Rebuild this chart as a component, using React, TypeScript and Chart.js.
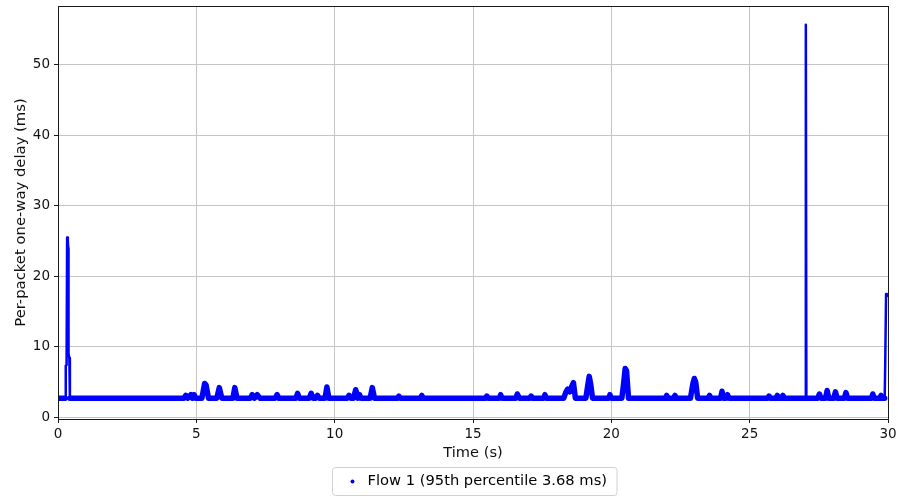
import React, { useEffect, useRef } from "react";
import { Chart, registerables } from "chart.js";

Chart.register(...registerables);

// ---- data ----
const seriesLabel = "Flow 1 (95th percentile 3.68 ms)";
const xTitle = "Time (s)";
const yTitle = "Per-packet one-way delay (ms)";

// time (s) of each sampled vertex of the delay trace
const times = [
  0.0, 0.26, 0.28, 0.31, 0.33, 0.355, 0.37, 0.38, 0.41, 0.43,
  1.5, 3.0, 4.55, 4.62, 4.69, 4.8, 4.86, 4.92, 4.98,
  5.2, 5.3, 5.35, 5.44, 5.74, 5.83, 5.92, 6.32, 6.39, 6.47,
  6.95, 7.02, 7.1, 7.2, 7.3, 7.85, 7.92, 7.98,
  8.6, 8.66, 8.72, 9.08, 9.15, 9.22, 9.32, 9.38, 9.44,
  9.65, 9.72, 9.79, 10.45, 10.52, 10.58, 10.68, 10.76, 10.84, 10.9, 10.95, 11.0,
  11.28, 11.36, 11.44, 12.28, 12.32, 12.36, 13.1, 13.15, 13.2,
  15.45, 15.5, 15.55, 15.95, 16.0, 16.05, 16.55, 16.6, 16.68,
  17.05, 17.1, 17.15, 17.55, 17.6, 17.65,
  18.28, 18.35, 18.42, 18.5, 18.56, 18.63, 18.7,
  19.08, 19.15, 19.2, 19.25, 19.32, 19.9, 19.95, 20.0,
  20.38, 20.45, 20.5, 20.55, 20.62, 21.95, 22.0, 22.05, 22.25, 22.3, 22.35,
  22.86, 22.95, 23.0, 23.05, 23.12, 23.5, 23.55, 23.6,
  23.95, 24.0, 24.05, 24.15, 24.2, 24.25,
  25.65, 25.7, 25.75, 25.95, 26.0, 26.05, 26.15, 26.2, 26.25,
  27.02, 27.03, 27.05, 27.46, 27.52, 27.58, 27.74, 27.8, 27.86,
  28.04, 28.1, 28.16, 28.42, 28.48, 28.54, 29.4, 29.45, 29.5,
  29.7, 29.75, 29.8, 29.88, 29.9, 29.93, 29.96,
];

// per-packet one-way delay (ms) at each of those times
const delays = [
  2.7, 2.7, 7.3, 7.4, 25.5, 25.0, 24.0, 9.0, 8.4, 2.7,
  2.7, 2.7, 2.7, 3.1, 2.7, 3.2, 2.7, 3.2, 2.7,
  2.7, 4.8, 4.6, 2.7, 2.7, 4.2, 2.7, 2.7, 4.2, 2.7,
  2.7, 3.2, 2.7, 3.2, 2.7, 2.7, 3.2, 2.7,
  2.7, 3.4, 2.7, 2.7, 3.4, 2.7, 2.7, 3.1, 2.7,
  2.7, 4.3, 2.7, 2.7, 3.1, 2.7, 2.7, 3.9, 2.7, 3.2, 2.7, 2.7,
  2.7, 4.2, 2.7, 2.7, 3.0, 2.7, 2.7, 3.1, 2.7,
  2.7, 3.0, 2.7, 2.7, 3.2, 2.7, 2.7, 3.3, 2.7,
  2.7, 3.0, 2.7, 2.7, 3.2, 2.7,
  2.7, 3.5, 4.0, 3.6, 4.3, 4.9, 2.7,
  2.7, 4.6, 5.8, 4.8, 2.7, 2.7, 3.2, 2.7,
  2.7, 5.0, 6.9, 6.6, 2.7, 2.7, 3.1, 2.7, 2.7, 3.1, 2.7,
  2.7, 4.8, 5.5, 5.0, 2.7, 2.7, 3.1, 2.7,
  2.7, 3.7, 2.7, 2.7, 3.2, 2.7,
  2.7, 3.0, 2.7, 2.7, 3.1, 2.7, 2.7, 3.1, 2.7,
  2.7, 55.7, 2.7, 2.7, 3.3, 2.7, 2.7, 3.8, 2.7,
  2.7, 3.6, 2.7, 2.7, 3.5, 2.7, 2.7, 3.3, 2.7,
  2.7, 3.1, 2.7, 2.7, 7.6, 17.5, 17.2,
];

const xTicks = [0, 5, 10, 15, 20, 25, 30];
const yTicks = [0, 10, 20, 30, 40, 50];
const xRange = [0, 30];
const yRange = [-0.25, 58.35];

const FONT = "'DejaVu Sans', 'Noto Sans', sans-serif";
const BLUE = "#0000ff";

const framePlugin = {
  id: "frameAndLegend",
  afterDraw(chart: any) {
    const { ctx, chartArea } = chart;
    const { left, right, top, bottom } = chartArea;
    ctx.save();
    // full box spines
    ctx.strokeStyle = "#1a1a1a";
    ctx.lineWidth = 1;
    ctx.strokeRect(
      Math.round(left) + 0.5,
      Math.round(top) + 0.5,
      Math.round(right) - Math.round(left),
      Math.round(bottom) - Math.round(top)
    );

    // legend box under the axis
    ctx.font = `14.7px ${FONT}`;
    const tw = ctx.measureText(seriesLabel).width;
    const boxW = tw + 45;
    const boxH = 28;
    const cx = (left + right) / 2 + 1;
    const bx = Math.round(cx - boxW / 2) + 0.5;
    const by = Math.round(bottom + 48) + 0.5;
    const r = 3;
    ctx.beginPath();
    ctx.moveTo(bx + r, by);
    ctx.lineTo(bx + boxW - r, by);
    ctx.quadraticCurveTo(bx + boxW, by, bx + boxW, by + r);
    ctx.lineTo(bx + boxW, by + boxH - r);
    ctx.quadraticCurveTo(bx + boxW, by + boxH, bx + boxW - r, by + boxH);
    ctx.lineTo(bx + r, by + boxH);
    ctx.quadraticCurveTo(bx, by + boxH, bx, by + boxH - r);
    ctx.lineTo(bx, by + r);
    ctx.quadraticCurveTo(bx, by, bx + r, by);
    ctx.closePath();
    ctx.fillStyle = "rgba(255,255,255,0.8)";
    ctx.fill();
    ctx.strokeStyle = "#d0d0d0";
    ctx.stroke();

    ctx.fillStyle = BLUE;
    ctx.beginPath();
    ctx.arc(bx + 20, by + boxH / 2, 2, 0, Math.PI * 2);
    ctx.fill();

    ctx.fillStyle = "#000";
    ctx.textBaseline = "middle";
    ctx.textAlign = "left";
    ctx.fillText(seriesLabel, bx + 35, by + boxH / 2);
    ctx.restore();
  },
};

const zeroPad = (s: any) => {
  s.paddingTop = 0;
  s.paddingBottom = 0;
  s.paddingLeft = 0;
  s.paddingRight = 0;
};

export default function App() {
  const ref = useRef<HTMLCanvasElement | null>(null);

  useEffect(() => {
    if (!ref.current) return;
    const points = times.map((t, i) => ({ x: t, y: delays[i] }));
    const chart = new Chart(ref.current, {
      type: "scatter",
      data: {
        datasets: [
          {
            label: seriesLabel,
            data: points,
            showLine: true,
            borderColor: BLUE,
            backgroundColor: BLUE,
            borderWidth: 5.5,
            borderCapStyle: "round",
            borderJoinStyle: "round",
            pointRadius: 0,
            segment: {
              borderWidth: (c: any) =>
                c.p0.parsed.y > 7 || c.p1.parsed.y > 7 ? 2.5 : 5.5,
            },
          } as any,
        ],
      },
      options: {
        animation: false,
        responsive: false,
        maintainAspectRatio: false,
        layout: { padding: { left: 0, right: 10, top: 6, bottom: 0 } },
        plugins: {
          legend: { display: false },
          tooltip: { enabled: false },
        },
        scales: {
          x: {
            type: "linear",
            min: xRange[0],
            max: xRange[1],
            afterBuildTicks: (s: any) => {
              s.ticks = xTicks.map((v) => ({ value: v }));
            },
            afterFit: (s: any) => {
              s.height = 79;
              zeroPad(s);
            },
            grid: {
              color: "#c4c4c4",
              lineWidth: 1,
              tickColor: "#1a1a1a",
              tickLength: 4,
              drawTicks: true,
            },
            border: { display: true, color: "#1a1a1a", width: 1 },
            ticks: {
              color: "#111",
              font: { family: FONT, size: 13.5 },
              padding: 3,
              maxRotation: 0,
              callback: (v: any) => String(v),
            },
            title: {
              display: true,
              text: xTitle,
              color: "#111",
              font: { family: FONT, size: 14.6 },
              padding: { top: 4, bottom: 36 },
            },
          },
          y: {
            type: "linear",
            min: yRange[0],
            max: yRange[1],
            afterBuildTicks: (s: any) => {
              s.ticks = yTicks.map((v) => ({ value: v }));
            },
            afterFit: (s: any) => {
              s.width = 58;
              zeroPad(s);
            },
            grid: {
              color: "#c4c4c4",
              lineWidth: 1,
              tickColor: "#1a1a1a",
              tickLength: 4,
              drawTicks: true,
            },
            border: { display: true, color: "#1a1a1a", width: 1 },
            ticks: {
              color: "#111",
              font: { family: FONT, size: 13.5 },
              padding: 4,
              callback: (v: any) => String(v),
            },
            title: {
              display: true,
              text: yTitle,
              color: "#111",
              font: { family: FONT, size: 14.8 },
              padding: { top: 12, bottom: 0 },
            },
          },
        },
      },
      plugins: [framePlugin],
    });
    return () => chart.destroy();
  }, []);

  return (
    <div
      style={{
        position: "absolute",
        left: 0,
        top: 0,
        width: 898,
        height: 498,
        background: "#fff",
      }}
    >
      <canvas ref={ref} width={898} height={498} style={{ display: "block" }} />
    </div>
  );
}
